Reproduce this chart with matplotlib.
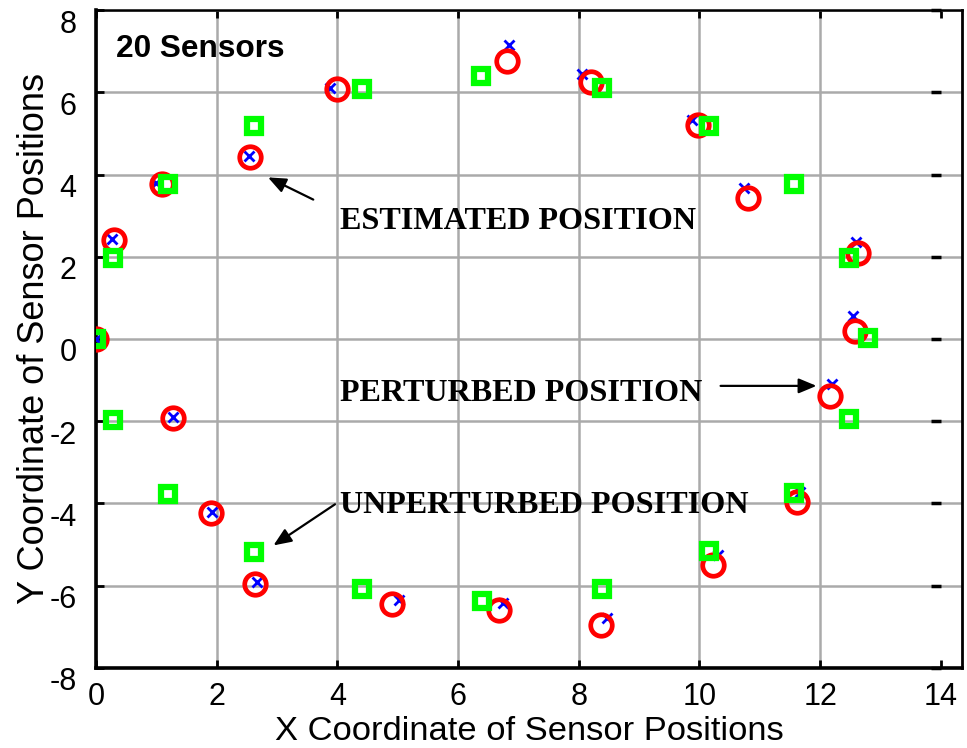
import matplotlib
matplotlib.use('Agg')
import matplotlib.pyplot as plt
from matplotlib.transforms import ScaledTranslation

plt.rcParams['axes.unicode_minus'] = False

# unperturbed (nominal) sensor positions - green squares
unpert_x = [0.0, 0.28, 1.19, 2.62, 4.41, 6.38, 8.39, 10.15, 11.56, 12.47,
            12.8, 12.47, 11.56, 10.15, 8.39, 6.4, 4.41, 2.62, 1.19, 0.28]
unpert_y = [0.0, 1.96, 3.78, 5.17, 6.08, 6.4, 6.1, 5.19, 3.78, 1.96,
            0.02, -1.94, -3.75, -5.15, -6.07, -6.38, -6.08, -5.17, -3.76, -1.98]

# perturbed positions - blue x
pert_x = [0.0, 0.27, 1.0, 2.54, 3.87, 6.85, 8.05, 9.87, 10.73, 12.6,
          12.55, 12.2, 11.67, 10.31, 8.47, 6.75, 5.02, 2.67, 1.93, 1.28]
pert_y = [0.0, 2.42, 3.8, 4.44, 6.1, 7.15, 6.45, 5.33, 3.68, 2.35,
          0.55, -1.1, -3.73, -5.26, -6.79, -6.42, -6.35, -5.9, -4.2, -1.89]

# estimated positions - red circles
est_x = [0.0, 0.3, 1.09, 2.55, 4.0, 6.81, 8.21, 9.98, 10.8, 12.62,
         12.57, 12.17, 11.62, 10.23, 8.37, 6.67, 4.91, 2.64, 1.9, 1.27]
est_y = [0.0, 2.4, 3.76, 4.43, 6.07, 6.76, 6.25, 5.21, 3.44, 2.08,
         0.2, -1.38, -3.96, -5.5, -6.96, -6.6, -6.45, -5.96, -4.22, -1.92]

xticks = [0, 2, 4, 6, 8, 10, 12, 14]
yticks = [-8, -6, -4, -2, 0, 2, 4, 6, 8]

fig = plt.figure(figsize=(9.67, 7.48), dpi=100)
ax = fig.add_axes([0.0993, 0.107, 0.8955, 0.8796])

ax.plot(pert_x, pert_y, 'x', color='#0000ff', ms=7, mew=2, zorder=3)
ax.plot(est_x, est_y, 'o', color='#ff0000', mfc='none', ms=15.5, mew=3.4, zorder=4)
ax.plot(unpert_x, unpert_y, 's', color='#00ff00', mfc='none', ms=10.5, mew=4.5, zorder=5)

ax.set_xlim(0, 14.35)
ax.set_ylim(-8, 8)
ax.set_xticks(xticks)
ax.set_yticks(yticks)
ax.grid(True, color='#aaaaaa', lw=1.8)
ax.set_axisbelow(True)
ax.xaxis.get_major_ticks()[-1].gridline.set_visible(False)

ax.tick_params(direction='in', length=6, width=2, top=True, right=False,
               labelsize=22)
ax.tick_params(axis='y', pad=14)
ax.tick_params(axis='x', pad=10)
for lab in ax.get_xticklabels() + ax.get_yticklabels():
    lab.set_fontfamily('Liberation Sans')
for lab in ax.get_yticklabels():
    lab.set_transform(lab.get_transform() + ScaledTranslation(0, -0.11, fig.dpi_scale_trans))

# inner tick marks of the original right edge at x = 14
sec = ax.secondary_yaxis(14 / 14.35)
sec.set_yticks(yticks)
sec.tick_params(direction='in', length=7, width=2.5, colors='black', labelright=False)
for s in sec.spines.values():
    s.set_visible(False)
sec.set_zorder(6)

for side, w in [('left', 2.6), ('bottom', 2.6), ('top', 1.8), ('right', 2.0)]:
    ax.spines[side].set_linewidth(w)
    ax.spines[side].set_color('black')

ax.set_xlabel('X Coordinate of Sensor Positions', fontsize=24.8,
              family='Liberation Sans', va='center')
ax.set_ylabel('Y Coordinate of Sensor Positions', fontsize=26,
              family='Liberation Sans', va='center')
ax.xaxis.set_label_coords(0.5, -0.096)
ax.yaxis.set_label_coords(-0.071, 0.5)

ax.text(0.33, 6.86, '20 Sensors', fontsize=22.8, fontweight='bold',
        family='Liberation Sans', va='baseline')

serif = dict(fontsize=23.1, fontweight='bold', family='Liberation Serif', va='baseline')
ax.text(4.05, 2.67, 'ESTIMATED POSITION', **serif)
ax.text(4.05, -1.5, 'PERTURBED POSITION', **serif)
ax.text(4.05, -4.22, 'UNPERTURBED POSITION', **serif)

arrow = dict(arrowstyle='-|>,head_length=0.6,head_width=0.25', color='k',
             lw=1.6, mutation_scale=18, shrinkA=0, shrinkB=0)
ax.annotate('', xy=(2.85, 3.93), xytext=(3.6, 3.39), arrowprops=arrow)
ax.annotate('', xy=(11.94, -1.14), xytext=(10.35, -1.14), arrowprops=arrow)
ax.annotate('', xy=(2.94, -5.02), xytext=(3.96, -4.02), arrowprops=arrow)

fig.savefig('out.png', dpi=100)
